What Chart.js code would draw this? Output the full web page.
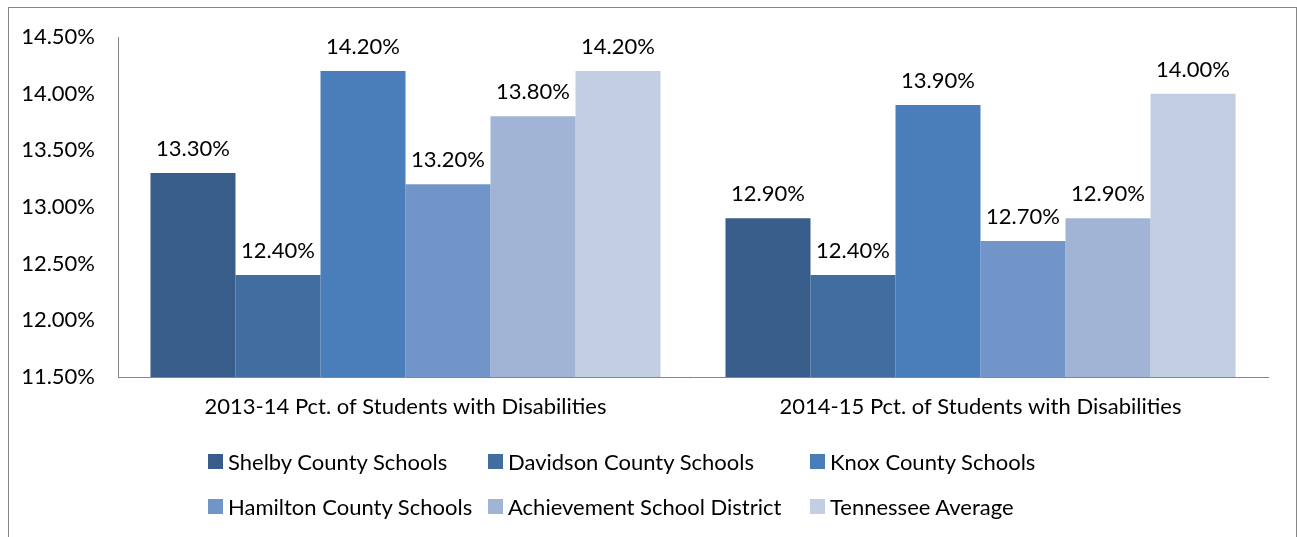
<!DOCTYPE html>
<html>
<head>
<meta charset="utf-8">
<script src="https://cdn.jsdelivr.net/npm/chart.js@4/dist/chart.umd.min.js"></script>
<style>
  body { margin: 0; background: #fff; font-family: Lato, sans-serif; }
  .marco { position: absolute; left: 8px; top: 7px; width: 1287px; height: 560px; border: 1px solid #868686; }
  .lienzo { position: absolute; left: 0; top: 0; width: 1297px; height: 537px; }
  .leyenda { position: absolute; left: 208px; top: 448px; display: grid; grid-template-columns: 280px 322px 240px; row-gap: 19px; font-size: 22px; color: #000; }
  .leyenda div { display: flex; align-items: center; height: 26px; white-space: nowrap; }
  .leyenda span { display: inline-block; width: 15px; height: 15px; margin-right: 5px; }
</style>
</head>
<body>
<div class="marco"></div>
<div class="lienzo"><canvas id="chart-disc" width="1297" height="537"></canvas></div>
<div class="leyenda" id="leyenda"></div>
<script>
const categorias = ['2013-14 Pct. of Students with Disabilities', '2014-15 Pct. of Students with Disabilities']
const distritos = ['Shelby County Schools', 'Davidson County Schools', 'Knox County Schools', 'Hamilton County Schools', 'Achievement School District', 'Tennessee Average']
const shelby = [13.3, 12.9]
const davidson = [12.4, 12.4]
const knox = [14.2, 13.9]
const hamilton = [13.2, 12.7]
const achievement = [13.8, 12.9]
const tennessee = [14.2, 14.0]
const colores = ['#385D8A', '#426DA1', '#4A7EBB', '#7295C9', '#A1B4D6', '#C3CEE3']

const series = [shelby, davidson, knox, hamilton, achievement, tennessee]
const fuente = { family: 'Lato, sans-serif', size: 22 }

const etiquetasValor = {
  id: 'etiquetasValor',
  afterDatasetsDraw(chart) {
    const ctx = chart.ctx
    ctx.save()
    ctx.font = '22px Lato, sans-serif'
    ctx.fillStyle = '#000'
    ctx.textAlign = 'center'
    ctx.textBaseline = 'alphabetic'
    chart.data.datasets.forEach((ds, i) => {
      chart.getDatasetMeta(i).data.forEach((bar, j) => {
        ctx.fillText(ds.data[j].toFixed(2) + '%', bar.x, bar.y - 17)
      })
    })
    ctx.restore()
  }
}

new Chart(document.getElementById('chart-disc').getContext('2d'), {
  type: 'bar',
  data: {
    labels: categorias,
    datasets: distritos.map((nombre, i) => ({
      label: nombre,
      data: series[i],
      backgroundColor: colores[i],
      borderWidth: 0,
      categoryPercentage: 0.887,
      barPercentage: 1
    }))
  },
  options: {
    responsive: false,
    animation: false,
    layout: { padding: { top: 37, right: 29, left: 0, bottom: 0 } },
    plugins: {
      legend: { display: false },
      tooltip: { enabled: false }
    },
    scales: {
      x: {
        grid: { color: 'transparent', drawTicks: false },
        border: { color: '#868686', width: 1 },
        ticks: { color: '#000', font: fuente, padding: 17, maxRotation: 0 },
        afterFit: s => { s.height = 160 }
      },
      y: {
        min: 11.5,
        max: 14.5,
        grid: { color: 'transparent', drawTicks: false },
        border: { color: '#868686', width: 1 },
        ticks: {
          stepSize: 0.5,
          color: '#000',
          font: fuente,
          padding: 23,
          callback: v => v.toFixed(2) + '%'
        },
        afterFit: s => { s.width = 118 }
      }
    }
  },
  plugins: [etiquetasValor]
})

const $leyenda = document.getElementById('leyenda')
distritos.forEach((nombre, i) => {
  const $item = document.createElement('div')
  $item.innerHTML = `<span style="background:${colores[i]}"></span>${nombre}`
  $leyenda.appendChild($item)
})
</script>
</body>
</html>
